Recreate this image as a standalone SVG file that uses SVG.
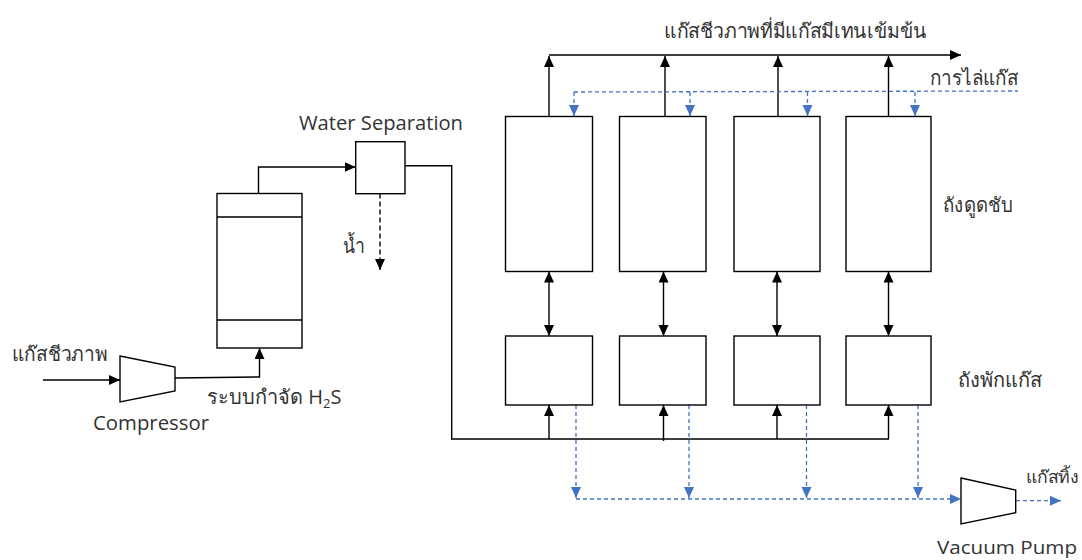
<svg xmlns="http://www.w3.org/2000/svg" width="1082" height="560" viewBox="0 0 1082 560">
<style>
.n{fill:#fff;stroke:#000;stroke-width:1.4}
.k{fill:none;stroke:#000;stroke-width:1.4}
.a{marker-end:url(#ka)}
.t{marker-start:url(#ka2);marker-end:url(#ka2)}
.d{stroke-dasharray:5 3}
.b{fill:none;stroke:#4472c4;stroke-width:1.3;stroke-dasharray:4 3}
.ba{marker-end:url(#ba)}
text{font-family:"Open Sans","Noto Sans","DejaVu Sans",sans-serif;font-size:20px;fill:#333}
</style>
<defs>
<marker id="ka" markerUnits="userSpaceOnUse" markerWidth="12" markerHeight="12" refX="11" refY="5" orient="auto"><path d="M0 0L11 5L0 10Z" fill="#000"/></marker>
<marker id="ka2" markerUnits="userSpaceOnUse" markerWidth="12" markerHeight="12" refX="11" refY="5" orient="auto-start-reverse"><path d="M0 0L11 5L0 10Z" fill="#000"/></marker>
<marker id="ba" markerUnits="userSpaceOnUse" markerWidth="12" markerHeight="12" refX="11" refY="5" orient="auto"><path d="M0 0L11 5L0 10Z" fill="#4472c4"/></marker>
</defs>
<g id="connectors">
<path class="k a" d="M43 380H120"/>
<path class="k a" d="M175 378L259.500 377V348"/>
<path class="k a" d="M258.500 193.500V167H355.500"/>
<path class="k d a" d="M380 193.500V270"/>
<path class="k" d="M405 165.700H451.700V439H889"/>
<path class="k a" d="M549 439V405"/>
<path class="k a" d="M663.500 441V405"/>
<path class="k a" d="M777 439V405"/>
<path class="k a" d="M888.500 439V405"/>
<path class="k a" d="M549 116V56"/>
<path class="k a" d="M665 116V56"/>
<path class="k a" d="M778 116V56"/>
<path class="k a" d="M888.500 116V56"/>
<path class="k a" d="M549 55H961"/>
<path class="k t" d="M549 271.500V336"/>
<path class="k t" d="M663.500 271.500V336"/>
<path class="k t" d="M777 271.500V336"/>
<path class="k t" d="M888.500 271.500V336"/>
<path class="b" d="M574 92L1018 91"/>
<path class="b ba" d="M574 92V116"/>
<path class="b ba" d="M690 92V116"/>
<path class="b ba" d="M807.500 92V116"/>
<path class="b ba" d="M915 92V116"/>
<path class="b ba" d="M576 405V498"/>
<path class="b ba" d="M689 405V498"/>
<path class="b ba" d="M806.500 405V498"/>
<path class="b ba" d="M918 405V498"/>
<path class="b ba" d="M576 499H961"/>
<path class="b ba" d="M1016 500.700H1061"/>
</g>
<g id="compressor"><path class="n" d="M120 356L175 367V391L120 402Z"/></g>
<g id="h2s-column"><rect class="n" x="217" y="193.500" width="85" height="154.500"/><path class="k" d="M217 217H302M217 320H302"/></g>
<g id="water-separation"><rect class="n" x="355.700" y="141.700" width="49.300" height="52"/></g>
<g id="tank-1"><rect class="n" x="505.500" y="116.500" width="87" height="155"/></g>
<g id="tank-2"><rect class="n" x="619.500" y="116.500" width="86.500" height="155"/></g>
<g id="tank-3"><rect class="n" x="734" y="116.500" width="86" height="155"/></g>
<g id="tank-4"><rect class="n" x="846" y="116.500" width="85" height="155"/></g>
<g id="buffer-1"><rect class="n" x="505.500" y="336" width="87" height="69"/></g>
<g id="buffer-2"><rect class="n" x="619.500" y="336" width="86.500" height="69"/></g>
<g id="buffer-3"><rect class="n" x="734" y="336" width="86" height="69"/></g>
<g id="buffer-4"><rect class="n" x="846" y="336" width="85" height="69"/></g>
<g id="vacuum-pump"><path class="n" d="M961 478L1015.700 490V512.700L961 524Z"/></g>
<g id="labels">
<text x="12" y="361" textLength="95" lengthAdjust="spacingAndGlyphs">แก๊สชีวภาพ</text>
<text x="93" y="430" textLength="116" lengthAdjust="spacingAndGlyphs">Compressor</text>
<text x="207" y="404">ระบบกำจัด H<tspan font-size="13" dy="4">2</tspan><tspan dy="-4">S</tspan></text>
<text x="299" y="130" textLength="164" lengthAdjust="spacingAndGlyphs">Water Separation</text>
<text x="343" y="253" textLength="22" lengthAdjust="spacingAndGlyphs">น้ำ</text>
<text x="664" y="38" textLength="263" lengthAdjust="spacingAndGlyphs">แก๊สชีวภาพที่มีแก๊สมีเทนเข้มข้น</text>
<text x="930" y="85" textLength="88" lengthAdjust="spacingAndGlyphs">การไล่แก๊ส</text>
<text x="943" y="212" textLength="70" lengthAdjust="spacingAndGlyphs">ถังดูดชับ</text>
<text x="958" y="387" textLength="84" lengthAdjust="spacingAndGlyphs">ถังพักแก๊ส</text>
<text x="1026" y="483" font-size="17" style="font-size:17px" textLength="52" lengthAdjust="spacingAndGlyphs">แก๊สทิ้ง</text>
<text x="937" y="554" style="font-size:19px" textLength="140" lengthAdjust="spacingAndGlyphs">Vacuum Pump</text>
</g>
</svg>
